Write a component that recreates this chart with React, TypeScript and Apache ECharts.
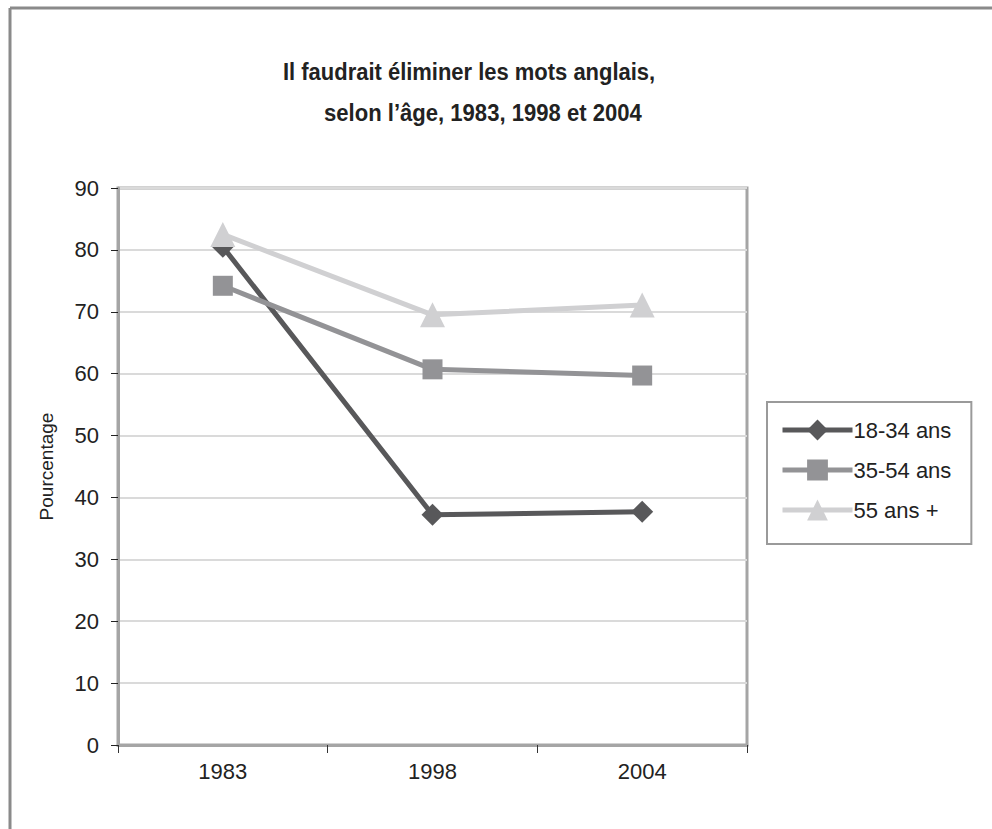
import React, { useEffect, useRef } from "react";
import * as echarts from "echarts";

const categories = ["1983", "1998", "2004"];
const seriesNames = ["18-34 ans", "35-54 ans", "55 ans +"];
const values1834 = [80.5, 37.2, 37.7];
const values3554 = [74.2, 60.7, 59.7];
const values55 = [82.5, 69.5, 71.1];
const titleLine1 = "Il faudrait éliminer les mots anglais,";
const titleLine2 = "selon l’âge, 1983, 1998 et 2004";
const yAxisTitle = "Pourcentage";

const FONT = "'Liberation Sans', Arial, sans-serif";

export default function App() {
  const ref = useRef<HTMLDivElement>(null);
  useEffect(() => {
    if (!ref.current) return;
    const chart = echarts.init(ref.current, undefined, { renderer: "svg" });
    const colors = ["#58585a", "#939396", "#d0d0d2"];
    const symbols = ["diamond", "rect", "triangle"];
    const sizes = [22, 20, 25];
    const data = [values1834, values3554, values55];
    chart.setOption({
      animation: false,
      backgroundColor: "#ffffff",
      textStyle: { fontFamily: FONT },
      graphic: [
        { type: "line", shape: { x1: 10, y1: 8, x2: 992, y2: 8 }, style: { stroke: "#8a8a8a", lineWidth: 3 } },
        { type: "line", shape: { x1: 10, y1: 8, x2: 10, y2: 829 }, style: { stroke: "#8a8a8a", lineWidth: 3 } },
        {
          type: "text",
          x: 283,
          y: 72,
          scaleX: 0.915,
          style: {
            text: titleLine1,
            fontFamily: FONT,
            fontWeight: "bold",
            fontSize: 24,
            fill: "#222",
            textAlign: "left",
            textVerticalAlign: "middle",
          },
        },
        {
          type: "text",
          x: 324,
          y: 113,
          scaleX: 0.92,
          style: {
            text: titleLine2,
            fontFamily: FONT,
            fontWeight: "bold",
            fontSize: 24,
            fill: "#222",
            textAlign: "left",
            textVerticalAlign: "middle",
          },
        },
      ],
      legend: {
        orient: "vertical",
        left: 767,
        top: 402,
        data: seriesNames,
        borderColor: "#9a9a9a",
        borderWidth: 2,
        padding: [17, 20, 23, 13],
        itemWidth: 70,
        itemHeight: 26,
        itemGap: 18,
        lineStyle: { width: 5 },
        textStyle: { fontFamily: FONT, fontSize: 22, color: "#222", padding: [0, 0, 0, -4] },
      },
      grid: {
        left: 118,
        right: 245,
        top: 188,
        bottom: 84,
        show: true,
        borderColor: "#a5a5a5",
        borderWidth: 3,
      },
      xAxis: {
        type: "category",
        data: categories,
        boundaryGap: true,
        axisLine: { show: true, lineStyle: { color: "#a5a5a5", width: 3 } },
        axisTick: { show: true, length: 8, alignWithLabel: false, lineStyle: { color: "#333", width: 1 } },
        axisLabel: { fontFamily: FONT, fontSize: 22, color: "#222", margin: 15 },
        splitLine: { show: false },
      },
      yAxis: {
        type: "value",
        min: 0,
        max: 90,
        interval: 10,
        name: yAxisTitle,
        nameLocation: "middle",
        nameRotate: 90,
        nameGap: 62,
        nameTextStyle: { fontFamily: FONT, fontSize: 19, color: "#222" },
        axisLine: { show: true, lineStyle: { color: "#a5a5a5", width: 3 } },
        axisTick: { show: true, length: 7, lineStyle: { color: "#222", width: 1 } },
        axisLabel: { fontFamily: FONT, fontSize: 22, color: "#222", margin: 19 },
        splitLine: { show: true, lineStyle: { color: "#dadada", width: 2 } },
      },
      series: seriesNames.map((name, i) => ({
        name,
        type: "line",
        data: data[i],
        symbol: symbols[i],
        symbolSize: sizes[i],
        showAllSymbol: true,
        color: colors[i],
        lineStyle: { color: colors[i], width: 5 },
        itemStyle: { color: colors[i] },
        z: 2 + i,
      })),
    });
    return () => chart.dispose();
  }, []);
  return (
    <div
      ref={ref}
      style={{ position: "absolute", left: 0, top: 0, width: 992, height: 829, background: "#fff" }}
    />
  );
}
